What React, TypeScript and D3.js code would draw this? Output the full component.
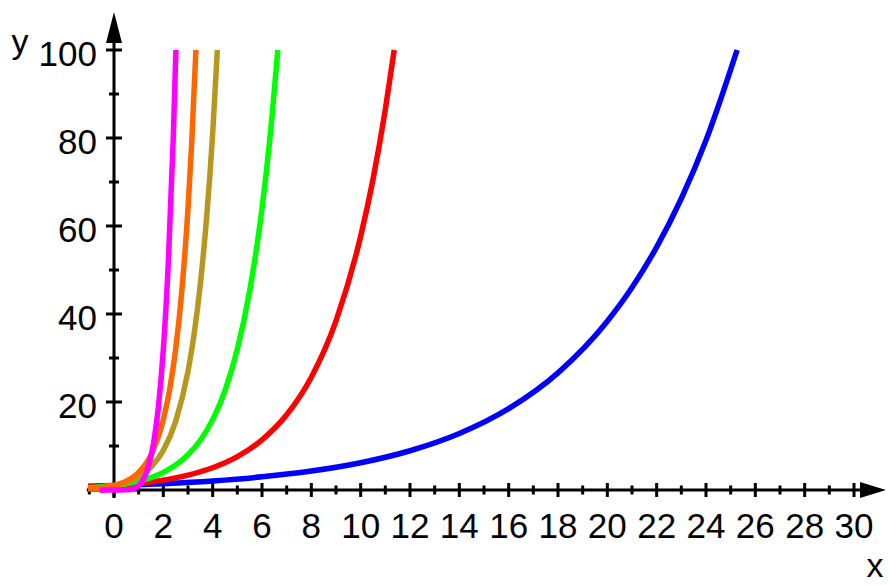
import * as d3 from 'd3'

// series: [x, y]
const blue: [number, number][] = [
  [-1.05, 0.83], [0, 1], [2, 1.44], [4, 2.07], [6, 2.99], [8, 4.3], [10, 6.19], [12, 8.92],
  [14, 12.84], [16, 18.49], [18, 26.62], [20, 38.34], [21, 46.0], [22, 55.21], [23, 66.25],
  [24, 79.5], [25.26, 100],
]
const red: [number, number][] = [
  [-1.05, 0.67], [0, 1], [1, 1.5], [2, 2.25], [3, 3.38], [4, 5.06], [5, 7.59], [6, 11.39],
  [7, 17.09], [8, 25.63], [9, 38.44], [10, 57.67], [10.5, 70.6], [11, 86.5], [11.36, 100],
]
const green: [number, number][] = [
  [-1.05, 0.5], [0, 1], [0.5, 1.41], [1, 2], [1.5, 2.83], [2, 4], [2.5, 5.66], [3, 8], [3.5, 11.3],
  [4, 16], [4.5, 22.6], [5, 32], [5.5, 45.3], [6, 64], [6.3, 78.8], [6.64, 100],
]
const gold: [number, number][] = [
  [-1.05, 0.33], [-0.5, 0.58], [0, 1], [0.5, 1.73], [1, 3], [1.5, 5.2], [2, 9], [2.5, 15.6],
  [3, 27], [3.25, 35.5], [3.5, 46.8], [3.75, 61.6], [4, 81], [4.19, 100],
]
const orange: [number, number][] = [
  [-1.05, 0.25], [-0.5, 0.5], [0, 1], [0.5, 2], [1, 4], [1.5, 8], [2, 16], [2.25, 22.6],
  [2.5, 32], [2.75, 45.3], [3, 64], [3.15, 78.8], [3.32, 100],
]
const magenta: [number, number][] = [
  [-0.57, -0.06], [0, 0], [0.5, 0.03], [0.8, 0.33], [1, 1], [1.2, 2.49], [1.4, 5.38], [1.6, 10.5],
  [1.8, 18.9], [2, 32], [2.2, 51.5], [2.4, 79.6], [2.51, 100],
]

const series = [
  { color: '#0000ff', data: blue },
  { color: '#ff0000', data: red },
  { color: '#00ff00', data: green },
  { color: '#b8971e', data: gold },
  { color: '#ff6600', data: orange },
  { color: '#ff00ff', data: magenta },
]

const xMajor = [0, 2, 4, 6, 8, 10, 12, 14, 16, 18, 20, 22, 24, 26, 28, 30]
const xMinor = [-1, 1, 3, 5, 7, 9, 11, 13, 15, 17, 19, 21, 23, 25, 27, 29]
const yMajor = [20, 40, 60, 80, 100]
const yMinor = [10, 30, 50, 70, 90]

const W = 889
const H = 585
const font = '"Liberation Sans", Arial, sans-serif'

export default function App() {
  const x = d3.scaleLinear().domain([0, 30]).range([114, 854])
  const y = d3.scaleLinear().domain([0, 100]).range([490, 50])
  const line = d3.line<[number, number]>()
    .x(d => x(d[0]))
    .y(d => y(d[1]))
    .curve(d3.curveMonotoneX)

  const x0 = x(0)
  const yAxis = y(0)

  return (
    <div style={{ position: 'absolute', left: 0, top: 0 }}>
      <svg width={W} height={H} style={{ display: 'block', background: '#fff' }}>
        {/* x axis */}
        <line x1={x(-1.1)} x2={862} y1={yAxis} y2={yAxis} stroke="#000" strokeWidth={3} />
        <path d={`M860,${yAxis - 8}L886,${yAxis}L860,${yAxis + 8}Z`} fill="#000" />
        {xMajor.map(v => (
          <line key={'xM' + v} x1={x(v)} x2={x(v)} y1={yAxis - 7} y2={yAxis + 7} stroke="#000" strokeWidth={3} />
        ))}
        {xMinor.map(v => (
          <line key={'xm' + v} x1={x(v)} x2={x(v)} y1={yAxis - 4.5} y2={yAxis + 4.5} stroke="#000" strokeWidth={3} />
        ))}
        {xMajor.map(v => (
          <text key={'xt' + v} x={x(v)} y={yAxis + 48} textAnchor="middle" fontFamily={font} fontSize={35}>{v}</text>
        ))}
        <text x={875} y={577} textAnchor="middle" fontFamily={font} fontSize={34}>x</text>

        {/* y axis */}
        <line x1={x0} x2={x0} y1={y(-1.8)} y2={40} stroke="#000" strokeWidth={3} />
        <path d={`M${x0 - 8},43L${x0},12L${x0 + 8},43Z`} fill="#000" />
        {yMajor.map(v => (
          <line key={'yM' + v} x1={x0 - 8} x2={x0 + 8} y1={y(v)} y2={y(v)} stroke="#000" strokeWidth={3} />
        ))}
        {yMinor.map(v => (
          <line key={'ym' + v} x1={x0 - 5} x2={x0 + 5} y1={y(v)} y2={y(v)} stroke="#000" strokeWidth={3} />
        ))}
        {yMajor.map(v => (
          <text key={'yt' + v} x={97} y={y(v) + 16} textAnchor="end" fontFamily={font} fontSize={35}>{v}</text>
        ))}
        <text x={20} y={53} textAnchor="middle" fontFamily={font} fontSize={34}>y</text>

        {/* curves */}
        {series.map(s => (
          <path key={s.color} d={line(s.data) ?? ''} fill="none" stroke={s.color} strokeWidth={5.5} />
        ))}
      </svg>
    </div>
  )
}
